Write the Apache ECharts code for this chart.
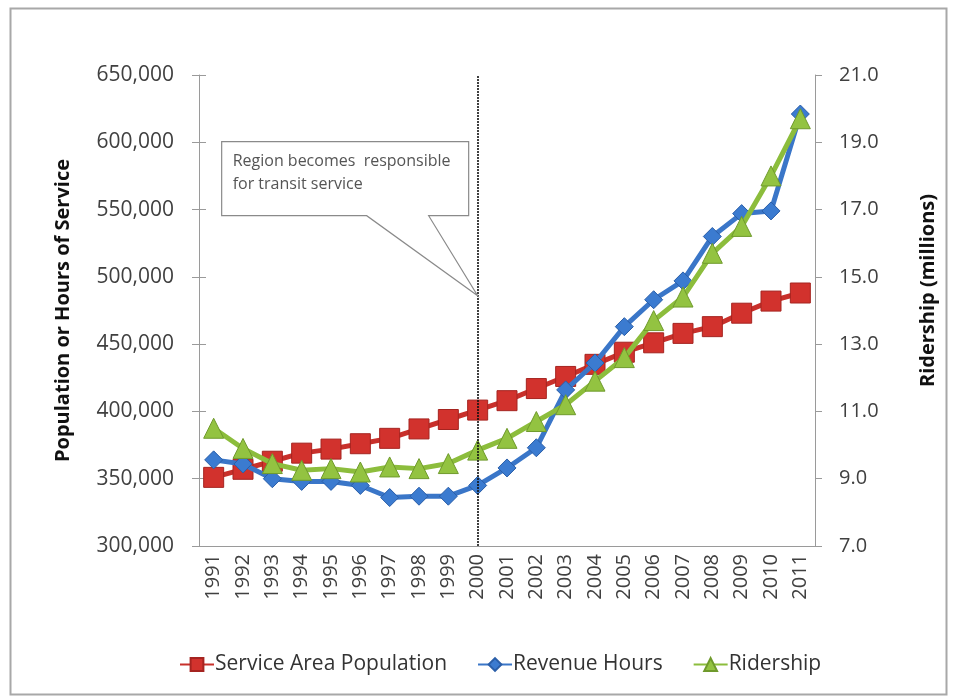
<html>
<head>
    <meta charset="utf-8">
    <script src="https://cdn.jsdelivr.net/npm/echarts@6/dist/echarts.min.js"></script>
    <style>
        html, body { margin: 0; padding: 0; background: #fff; }
        #main { width: 953px; height: 700px; }
    </style>
</head>
<body>
    <div id="main"></div>
    <script>
        // values
        var years = ['1991', '1992', '1993', '1994', '1995', '1996', '1997', '1998', '1999', '2000',
            '2001', '2002', '2003', '2004', '2005', '2006', '2007', '2008', '2009', '2010', '2011'];
        var population = [351000, 357000, 363000, 369000, 372000, 376000, 380000, 387000, 394000, 401000,
            408000, 417000, 426000, 435000, 444000, 451000, 458000, 463000, 473000, 482000, 488000];
        var revenueHours = [364000, 361000, 350000, 348000, 348000, 345000, 336000, 337000, 337000, 345000,
            358000, 373000, 416000, 436000, 463000, 483000, 497000, 530000, 547000, 549000, 621000];
        var ridership = [10.5, 9.9, 9.45, 9.25, 9.3, 9.2, 9.35, 9.3, 9.45, 9.85,
            10.2, 10.7, 11.2, 11.9, 12.6, 13.7, 14.4, 15.7, 16.5, 18.0, 19.7];
        var markYear = '2000';
        var calloutLines = ['Region becomes  responsible', 'for transit service'];

        var font = 'Open Sans';
        var axisColor = '#9a9a9a';
        var labelColor = '#404040';

        var myChart = echarts.init(document.getElementById('main'));

        var option = {
            backgroundColor: '#fff',
            animation: false,
            grid: { left: 199, right: 138, top: 75, bottom: 154 },
            legend: {
                bottom: 20,
                left: 174,
                itemWidth: 34,
                itemHeight: 16,
                itemGap: 30,
                textStyle: { fontFamily: font, fontSize: 21, color: '#333', padding: [0, 0, 0, -4] },
                data: ['Service Area Population', 'Revenue Hours', 'Ridership']
            },
            xAxis: [{
                type: 'category',
                data: years,
                boundaryGap: true,
                axisLine: { lineStyle: { color: axisColor } },
                axisTick: { length: 7, lineStyle: { color: axisColor } },
                axisLabel: { rotate: 90, margin: 8, fontFamily: font, fontSize: 20, color: labelColor }
            }, {
                type: 'category',
                data: years,
                position: 'bottom',
                boundaryGap: true,
                axisLine: { show: false },
                axisTick: { inside: true, length: 7, lineStyle: { color: axisColor } },
                axisLabel: { show: false }
            }],
            yAxis: [{
                type: 'value',
                position: 'left',
                min: 300000,
                max: 650000,
                interval: 50000,
                name: 'Population or Hours of Service',
                nameLocation: 'middle',
                nameGap: 126,
                nameTextStyle: { fontFamily: font, fontSize: 20, fontWeight: 'bold', color: '#111' },
                splitLine: { show: false },
                axisLine: { show: true, lineStyle: { color: axisColor } },
                axisTick: { show: true, length: 7, lineStyle: { color: axisColor } },
                axisLabel: {
                    margin: 25, fontFamily: font, fontSize: 21, color: labelColor,
                    formatter: function (v) { return v.toLocaleString('en-US'); }
                }
            }, {
                type: 'value',
                position: 'right',
                min: 7,
                max: 21,
                alignTicks: true,
                name: 'Ridership (millions)',
                nameLocation: 'middle',
                nameGap: 103,
                nameTextStyle: { fontFamily: font, fontSize: 20, fontWeight: 'bold', color: '#111', padding: [0, 0, 0, 40] },
                splitLine: { show: false },
                axisLine: { show: true, lineStyle: { color: axisColor } },
                axisTick: { show: true, length: 7, lineStyle: { color: axisColor } },
                axisLabel: {
                    margin: 24, fontFamily: font, fontSize: 20, color: labelColor,
                    formatter: function (v) { return v.toFixed(1); }
                }
            }, {
                type: 'value',
                position: 'left',
                min: 300000,
                max: 650000,
                interval: 50000,
                splitLine: { show: false },
                axisLine: { show: false },
                axisTick: { show: true, inside: true, length: 7, lineStyle: { color: axisColor } },
                axisLabel: { show: false }
            }],
            series: [{
                name: 'Service Area Population',
                type: 'line',
                yAxisIndex: 0,
                data: population,
                symbol: 'rect',
                symbolSize: 20,
                lineStyle: { width: 5, color: '#c8302b' },
                itemStyle: { color: '#d2322d', borderColor: '#a52420', borderWidth: 1 },
                markLine: {
                    silent: true,
                    symbol: 'none',
                    label: { show: false },
                    lineStyle: { color: '#111', type: [2, 1], width: 1.6 },
                    data: [{ xAxis: markYear }]
                },
                z: 2
            }, {
                name: 'Revenue Hours',
                type: 'line',
                yAxisIndex: 0,
                data: revenueHours,
                symbol: 'diamond',
                symbolSize: 18,
                lineStyle: { width: 5, color: '#3a76c8' },
                itemStyle: { color: '#3b7bd0', borderColor: '#2a5ea8', borderWidth: 1 },
                z: 3
            }, {
                name: 'Ridership',
                type: 'line',
                yAxisIndex: 1,
                data: ridership,
                symbol: 'triangle',
                symbolSize: 20,
                lineStyle: { width: 5, color: '#8cbd3c' },
                itemStyle: { color: '#93c341', borderColor: '#6f9a2c', borderWidth: 1 },
                z: 4
            }]
        };
        myChart.setOption(option);

        // callout pointing at the dotted line
        var tip = myChart.convertToPixel({ xAxisIndex: 0, yAxisIndex: 0 }, [markYear, 486000]);
        var bx = tip[0] - 256, by = tip[1] - 154, bw = 247, bh = 74;
        myChart.setOption({
            graphic: [{
                type: 'rect',
                left: 8, top: 6,
                shape: { width: 936, height: 686 },
                style: { fill: 'none', stroke: '#a8a8a8', lineWidth: 2 },
                silent: true
            }, {
                type: 'polygon',
                shape: {
                    points: [
                        [bx, by], [bx + bw, by], [bx + bw, by + bh], [tip[0] - 49, by + bh],
                        [tip[0], tip[1]], [tip[0] - 111, by + bh], [bx, by + bh]
                    ]
                },
                style: { fill: '#fff', stroke: '#8a8a8a', lineWidth: 1.2 },
                z: 100
            }, {
                type: 'text',
                x: bx + 11,
                y: by + 8,
                style: {
                    text: calloutLines.join('\n'),
                    fontFamily: font,
                    fontSize: 16,
                    lineHeight: 23,
                    fill: '#555'
                },
                z: 101
            }]
        });
    </script>
</body>
</html>
